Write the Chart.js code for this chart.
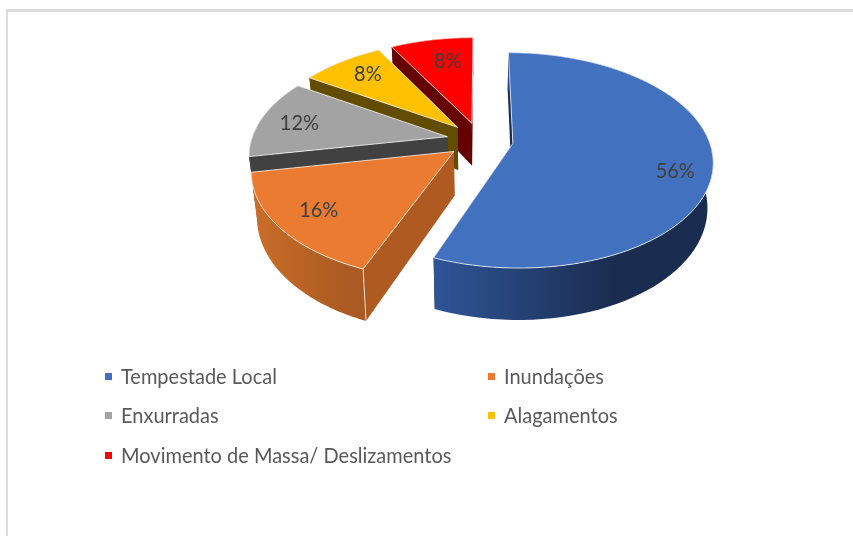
<!DOCTYPE html>
<html lang="pt-BR">
<head>
  <meta charset="UTF-8" />
  <title>Desastres</title>
  <script src="https://cdn.jsdelivr.net/npm/chart.js"></script>
  <style>
    html, body { margin: 0; background: #fff; overflow: hidden; }
    #moldura { position: absolute; left: 6px; top: 9px; right: 0; bottom: 0; border-left: 2px solid #dcdcdc; border-top: 3px solid #dcdcdc; }
    #grafico { position: absolute; left: 0; top: 0; filter: blur(0.35px); }
  </style>
</head>
<body>
  <div id="moldura"></div>
  <canvas id="grafico" width="853" height="536"></canvas>

  <script>
    const categorias = ['Tempestade Local', 'Inundações', 'Enxurradas', 'Alagamentos', 'Movimento de Massa/ Deslizamentos'];
    const valores = [56, 16, 12, 8, 8];

    const cores = ['#4271c0', '#ea7b30', '#a3a3a3', '#ffc000', '#ff0000'];
    const coresParede = ['#1a2c50', '#ae5a21', '#414141', '#624c00', '#660000'];
    const coresBorda = [['#2f5597', '#1a2c50'], ['#cb6e29', '#aa5a22'], ['#414141', '#414141'], ['#624c00', '#624c00'], ['#660000', '#660000']];

    // Projecao em perspectiva do plano da pizza
    const proj = { cx: 480, cy: 140, rx: 196, ry: 104, k: 0.157, prof: 43.5, recuo: 0.025 };

    function projeta(u, v, baixo) {
      const d = 1 - proj.k * v;
      let x = proj.rx * u / d;
      const y = proj.ry * v / d + (baixo ? proj.prof / d : 0);
      if (baixo) x *= 1 - proj.recuo;
      return [proj.cx + x, proj.cy + y];
    }

    // Geometria de uma fatia a partir do elemento de arco do Chart.js
    function fatia(arc) {
      const p = arc.getProps(['startAngle', 'endAngle', 'outerRadius']);
      const meio = (p.startAngle + p.endAngle) / 2;
      const d = arc.options.offset / p.outerRadius;
      const ou = Math.cos(meio) * d, ov = Math.sin(meio) * d;
      const borda = [];
      for (let i = 0; i <= 80; i++) {
        const a = p.startAngle + (p.endAngle - p.startAngle) * i / 80;
        borda.push([ou + Math.cos(a), ov + Math.sin(a)]);
      }
      return { meio, ou, ov, borda };
    }

    function caminho(ctx, pts) {
      ctx.beginPath();
      pts.forEach((p, i) => i ? ctx.lineTo(p[0], p[1]) : ctx.moveTo(p[0], p[1]));
      ctx.closePath();
    }

    // Texto um pouco mais estreito, como na fonte original
    function texto(ctx, t, x, y) {
      ctx.save();
      ctx.translate(x, y);
      ctx.scale(0.93, 1);
      ctx.fillText(t, 0, 0);
      ctx.restore();
    }

    const pizza3d = {
      id: 'pizza3d',
      beforeDatasetDraw(chart) {
        const ctx = chart.ctx;
        const arcos = chart.getDatasetMeta(0).data;
        const ordem = arcos.map((arc, i) => ({ i, f: fatia(arc) }))
          .sort((a, b) => Math.sin(a.f.meio) - Math.sin(b.f.meio));

        ordem.forEach(({ i, f }) => {
          const topo = f.borda.map(p => projeta(p[0], p[1], false));
          const fundo = f.borda.map(p => projeta(p[0], p[1], true));
          const apT = projeta(f.ou, f.ov, false), apB = projeta(f.ou, f.ov, true);
          const n = topo.length - 1;

          // paredes do corte
          ctx.fillStyle = coresParede[i];
          caminho(ctx, [apT, topo[0], fundo[0], apB]);
          ctx.fill();
          caminho(ctx, [apT, topo[n], fundo[n], apB]);
          ctx.fill();

          // parede curva
          const xs = topo.map(p => p[0]);
          const x0 = Math.min(...xs), x1 = Math.max(...xs);
          const g = ctx.createLinearGradient(x0, 0, i === 0 ? x0 + (x1 - x0) * 0.65 : x1 * 0.6 + x0 * 0.4 + 30, 0);
          g.addColorStop(0, coresBorda[i][0]);
          g.addColorStop(1, coresBorda[i][1]);
          ctx.fillStyle = g;
          caminho(ctx, topo.concat(fundo.slice().reverse()));
          ctx.fill();

          // aresta clara na quina da frente
          if (f.borda[0][1] > 0.5) {
            ctx.strokeStyle = 'rgba(255,255,255,0.75)';
            ctx.lineWidth = 1;
            ctx.beginPath();
            ctx.moveTo(topo[0][0], topo[0][1]);
            ctx.lineTo(fundo[0][0], fundo[0][1]);
            ctx.stroke();
          }

          // face de cima
          caminho(ctx, [apT].concat(topo));
          ctx.fillStyle = cores[i];
          ctx.fill();
          ctx.strokeStyle = 'rgba(255,255,255,0.75)';
          ctx.lineWidth = 1;
          ctx.stroke();
        });
        return false;
      },
      afterDatasetsDraw(chart) {
        const ctx = chart.ctx;
        const arcos = chart.getDatasetMeta(0).data;
        const ajuste = [[3, 12], [1, -1], [1, 1], [5, 0], [9, 6]];
        ctx.save();
        ctx.textAlign = 'center';
        ctx.textBaseline = 'middle';
        ctx.font = '21.5px Lato';
        ctx.fillStyle = '#404040';
        arcos.forEach((arc, i) => {
          const f = fatia(arc);
          const p = projeta(f.ou + Math.cos(f.meio) * 0.8, f.ov + Math.sin(f.meio) * 0.8, false);
          texto(ctx, valores[i] + '%', p[0] + ajuste[i][0], p[1] + ajuste[i][1]);
        });

        // legenda em duas colunas
        const colX = [105, 488], linY = [376, 415, 455];
        ctx.textAlign = 'left';
        ctx.font = '21.5px Lato';
        categorias.forEach((nome, i) => {
          const x = colX[i % 2], y = linY[Math.floor(i / 2)];
          ctx.fillStyle = cores[i];
          ctx.fillRect(x, y - 3, 7, 7);
          ctx.fillStyle = '#595959';
          texto(ctx, nome, x + 16, y + 1);
        });
        ctx.restore();
      }
    };

    new Chart(document.getElementById('grafico').getContext('2d'), {
      type: 'pie',
      data: {
        labels: categorias,
        datasets: [{ data: valores, backgroundColor: cores, borderWidth: 0, offset: 42 }]
      },
      options: {
        responsive: false,
        animation: false,
        plugins: { legend: { display: false }, tooltip: { enabled: false } }
      },
      plugins: [pizza3d]
    });
  </script>
</body>
</html>
